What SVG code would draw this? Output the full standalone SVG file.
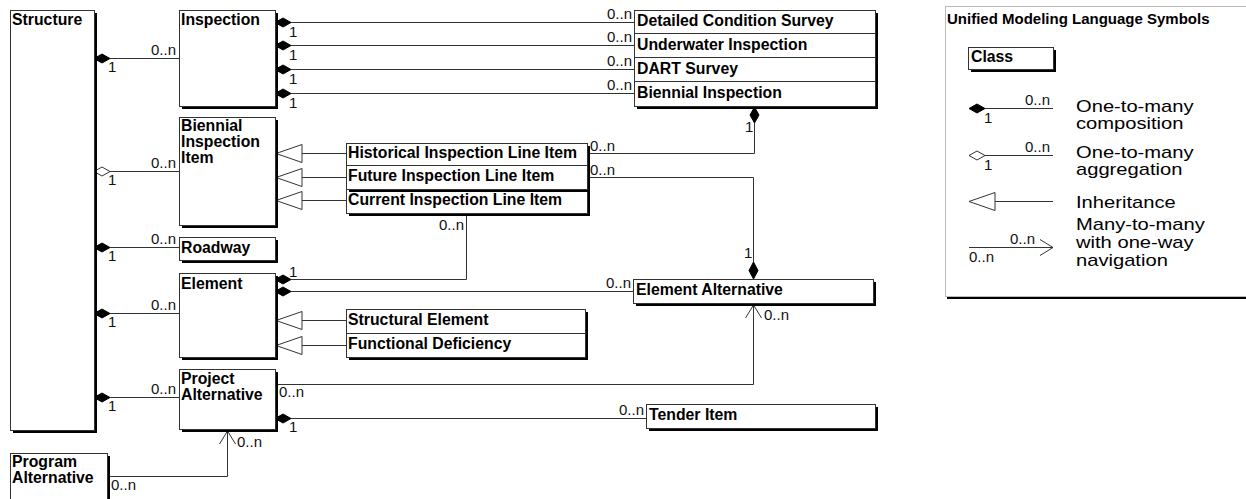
<svg xmlns="http://www.w3.org/2000/svg" width="1246" height="499" viewBox="0 0 1246 499">
  <style>
    .box { fill: #fff; stroke: #333; stroke-width: 1; }
    .shadow { fill: #000; }
    .sep { stroke: #333; stroke-width: 1; }
    .name { font-family: "Liberation Sans", Arial, sans-serif; font-weight: bold; font-size: 15.8px; fill: #000; }
    .mult { font-family: "Liberation Sans", Arial, sans-serif; font-size: 15px; fill: #111; }
    .end { text-anchor: end; }
    .desc { font-family: "Liberation Sans", Arial, sans-serif; font-size: 16px; fill: #000; }
    .line { fill: none; stroke: #333; stroke-width: 1; }
    .comp { fill: #000; stroke: #000; stroke-width: 1; }
    .aggr { fill: #fff; stroke: #333; stroke-width: 1; }
    .inh { fill: #fff; stroke: #333; stroke-width: 1; }
  </style>
  <defs>
    <!-- filled diamond, pointing left, anchored at its left tip -->
    <polygon id="dia" points="0,0 8,-4.5 16,0 8,4.5"/>
    <!-- generalisation triangle, tip at origin -->
    <polygon id="tri" points="0,0 26,-9 26,9"/>
  </defs>

  <rect width="1246" height="499" fill="#fff"/>

  <!-- connectors -->
  <g id="connectors">
    <path class="line" d="M110,58.5H179 M110,171.5H179 M110,247.5H179 M110,313.5H179 M110,397.5H179"/>
    <path class="line" d="M291,22.5H634 M291,45.5H634 M291,69.5H634 M291,93.5H634"/>
    <path class="line" d="M754.5,123V153.5H587"/>
    <path class="line" d="M302,153.5H346 M302,177.5H346 M302,200.5H346"/>
    <path class="line" d="M587,177.5H753.5V262"/>
    <path class="line" d="M291,279.5H466.5V213"/>
    <path class="line" d="M291,291.5H633"/>
    <path class="line" d="M302,320.5H346 M302,345.5H346"/>
    <path class="line" d="M275,384.5H753.5V305"/>
    <path class="line" d="M745.5,318L753.5,305L761.5,318"/>
    <path class="line" d="M291,418.5H646"/>
    <path class="line" d="M107,476.5H227.5V431"/>
    <path class="line" d="M219.5,444L227.5,431L235.5,444"/>

    <!-- composition / aggregation ends -->
    <use href="#dia" class="comp" x="94" y="58.5"/>
    <use href="#dia" class="aggr" x="94" y="171.5"/>
    <use href="#dia" class="comp" x="94" y="247.5"/>
    <use href="#dia" class="comp" x="94" y="313.5"/>
    <use href="#dia" class="comp" x="94" y="397.5"/>
    <use href="#dia" class="comp" x="275" y="22.5"/>
    <use href="#dia" class="comp" x="275" y="45.5"/>
    <use href="#dia" class="comp" x="275" y="69.5"/>
    <use href="#dia" class="comp" x="275" y="93.5"/>
    <use href="#dia" class="comp" x="275" y="279.5"/>
    <use href="#dia" class="comp" x="275" y="291.5"/>
    <use href="#dia" class="comp" x="275" y="418.5"/>
    <polygon class="comp" points="754.5,107 759,115 754.5,123 750,115"/>
    <polygon class="comp" points="753.5,262 758,270.5 753.5,279 749,270.5"/>

    <!-- generalisation ends -->
    <use href="#tri" class="inh" x="276" y="153.5"/>
    <use href="#tri" class="inh" x="276" y="177.5"/>
    <use href="#tri" class="inh" x="276" y="200.5"/>
    <use href="#tri" class="inh" x="276" y="320.5"/>
    <use href="#tri" class="inh" x="276" y="345.5"/>

    <!-- multiplicities -->
    <text class="mult end" x="176" y="55">0..n</text>
    <text class="mult" x="108" y="72">1</text>
    <text class="mult end" x="176" y="168">0..n</text>
    <text class="mult" x="108" y="185">1</text>
    <text class="mult end" x="176" y="244">0..n</text>
    <text class="mult" x="108" y="261">1</text>
    <text class="mult end" x="176" y="310">0..n</text>
    <text class="mult" x="108" y="327">1</text>
    <text class="mult end" x="176" y="394">0..n</text>
    <text class="mult" x="108" y="411">1</text>

    <text class="mult" x="289" y="37">1</text>
    <text class="mult" x="289" y="60">1</text>
    <text class="mult" x="289" y="84">1</text>
    <text class="mult" x="289" y="108">1</text>
    <text class="mult end" x="632" y="19">0..n</text>
    <text class="mult end" x="632" y="42">0..n</text>
    <text class="mult end" x="632" y="66">0..n</text>
    <text class="mult end" x="632" y="90">0..n</text>

    <text class="mult" x="745" y="132">1</text>
    <text class="mult" x="590" y="151">0..n</text>
    <text class="mult" x="590" y="175">0..n</text>
    <text class="mult end" x="464" y="230">0..n</text>
    <text class="mult" x="289" y="277">1</text>
    <text class="mult end" x="631" y="288">0..n</text>
    <text class="mult" x="744" y="258">1</text>
    <text class="mult" x="764" y="320">0..n</text>
    <text class="mult" x="279" y="397">0..n</text>
    <text class="mult" x="289" y="432">1</text>
    <text class="mult end" x="644" y="415">0..n</text>
    <text class="mult" x="237" y="447">0..n</text>
    <text class="mult" x="111" y="490">0..n</text>
  </g>

  <!-- classes -->
  <g id="structure">
    <rect class="shadow" x="13" y="13" width="84" height="420"/>
    <rect class="box" x="10.5" y="10.5" width="84" height="420"/>
    <text class="name" x="12" y="25">Structure</text>
  </g>

  <g id="inspection">
    <rect class="shadow" x="182" y="13" width="96" height="96"/>
    <rect class="box" x="179.5" y="10.5" width="96" height="96"/>
    <text class="name" x="181" y="25">Inspection</text>
  </g>

  <g id="inspection-types">
    <rect class="shadow" x="637" y="13" width="241" height="96"/>
    <rect class="box" x="634.5" y="10.5" width="241" height="96"/>
    <path class="sep" d="M634.5,33.5H875.5 M634.5,57.5H875.5 M634.5,81.5H875.5"/>
    <text class="name" x="637" y="26">Detailed Condition Survey</text>
    <text class="name" x="637" y="50">Underwater Inspection</text>
    <text class="name" x="637" y="74">DART Survey</text>
    <text class="name" x="637" y="98">Biennial Inspection</text>
  </g>

  <g id="biennial-inspection-item">
    <rect class="shadow" x="182" y="120" width="96" height="108"/>
    <rect class="box" x="179.5" y="117.5" width="96" height="108"/>
    <text class="name" x="181" y="131">Biennial</text>
    <text class="name" x="181" y="147">Inspection</text>
    <text class="name" x="181" y="163">Item</text>
  </g>

  <g id="current-inspection-line-item">
    <rect class="shadow" x="349" y="192" width="241" height="24"/>
    <rect class="box" x="346.5" y="189.5" width="241" height="24"/>
    <text class="name" x="348" y="205">Current Inspection Line Item</text>
  </g>

  <g id="historical-inspection-line-item">
    <rect class="shadow" x="349" y="146" width="241" height="22"/>
    <rect class="box" x="346.5" y="143.5" width="241" height="22"/>
    <text class="name" x="348" y="158">Historical Inspection Line Item</text>
  </g>

  <g id="future-inspection-line-item">
    <rect class="shadow" x="349" y="168" width="241" height="24"/>
    <rect class="box" x="346.5" y="165.5" width="241" height="24"/>
    <text class="name" x="348" y="181">Future Inspection Line Item</text>
  </g>

  <g id="roadway">
    <rect class="shadow" x="182" y="240" width="96" height="23"/>
    <rect class="box" x="179.5" y="237.5" width="96" height="23"/>
    <text class="name" x="181" y="253">Roadway</text>
  </g>

  <g id="element">
    <rect class="shadow" x="182" y="276" width="96" height="84"/>
    <rect class="box" x="179.5" y="273.5" width="96" height="84"/>
    <text class="name" x="181" y="289">Element</text>
  </g>

  <g id="element-subtypes">
    <rect class="shadow" x="349" y="312" width="239" height="48"/>
    <rect class="box" x="346.5" y="309.5" width="239" height="48"/>
    <path class="sep" d="M346.5,333.5H585.5"/>
    <text class="name" x="348" y="325">Structural Element</text>
    <text class="name" x="348" y="349">Functional Deficiency</text>
  </g>

  <g id="element-alternative">
    <rect class="shadow" x="636" y="282" width="240" height="24"/>
    <rect class="box" x="633.5" y="279.5" width="240" height="24"/>
    <text class="name" x="636" y="295">Element Alternative</text>
  </g>

  <g id="project-alternative">
    <rect class="shadow" x="182" y="372" width="96" height="60"/>
    <rect class="box" x="179.5" y="369.5" width="96" height="60"/>
    <text class="name" x="181" y="384">Project</text>
    <text class="name" x="181" y="400">Alternative</text>
  </g>

  <g id="tender-item">
    <rect class="shadow" x="649" y="407" width="229" height="24"/>
    <rect class="box" x="646.5" y="404.5" width="229" height="24"/>
    <text class="name" x="649" y="420">Tender Item</text>
  </g>

  <g id="program-alternative">
    <rect class="shadow" x="13" y="456" width="97" height="60"/>
    <rect class="box" x="10.5" y="453.5" width="97" height="60"/>
    <text class="name" x="12" y="467">Program</text>
    <text class="name" x="12" y="483">Alternative</text>
  </g>

  <!-- symbol key -->
  <g id="legend">
    <rect class="shadow" x="947" y="8" width="310" height="291"/>
    <rect x="945.5" y="6.5" width="310" height="290" fill="#fff" stroke="#bbb" stroke-width="1"/>
    <text class="name" x="947" y="24" style="font-size:15px">Unified Modeling Language Symbols</text>

    <rect class="shadow" x="971" y="50" width="85" height="22"/>
    <rect class="box" x="968.5" y="47.5" width="85" height="22"/>
    <text class="name" x="971" y="62">Class</text>

    <path class="line" d="M985,108.5H1053"/>
    <use href="#dia" class="comp" x="969" y="108.5"/>
    <text class="mult" x="1025" y="105">0..n</text>
    <text class="mult" x="984" y="123">1</text>

    <path class="line" d="M985,155.5H1053"/>
    <use href="#dia" class="aggr" x="969" y="155.5"/>
    <text class="mult" x="1025" y="152">0..n</text>
    <text class="mult" x="984" y="170">1</text>

    <path class="line" d="M995,201.5H1053"/>
    <use href="#tri" class="inh" x="969" y="201.5"/>

    <path class="line" d="M969,247.5H1053 M1040,239.5L1053,247.5L1040,255.5"/>
    <text class="mult" x="1010" y="244">0..n</text>
    <text class="mult" x="969" y="262">0..n</text>

    <!-- descriptions, widened horizontally -->
    <g transform="translate(1076,0) scale(1.26,1)">
      <text class="desc" x="0" y="112">One-to-many</text>
      <text class="desc" x="0" y="129">composition</text>
      <text class="desc" x="0" y="158">One-to-many</text>
      <text class="desc" x="0" y="175">aggregation</text>
      <text class="desc" x="0" y="208">Inheritance</text>
      <text class="desc" x="0" y="230">Many-to-many</text>
      <text class="desc" x="0" y="248">with one-way</text>
      <text class="desc" x="0" y="266">navigation</text>
    </g>
  </g>
</svg>
